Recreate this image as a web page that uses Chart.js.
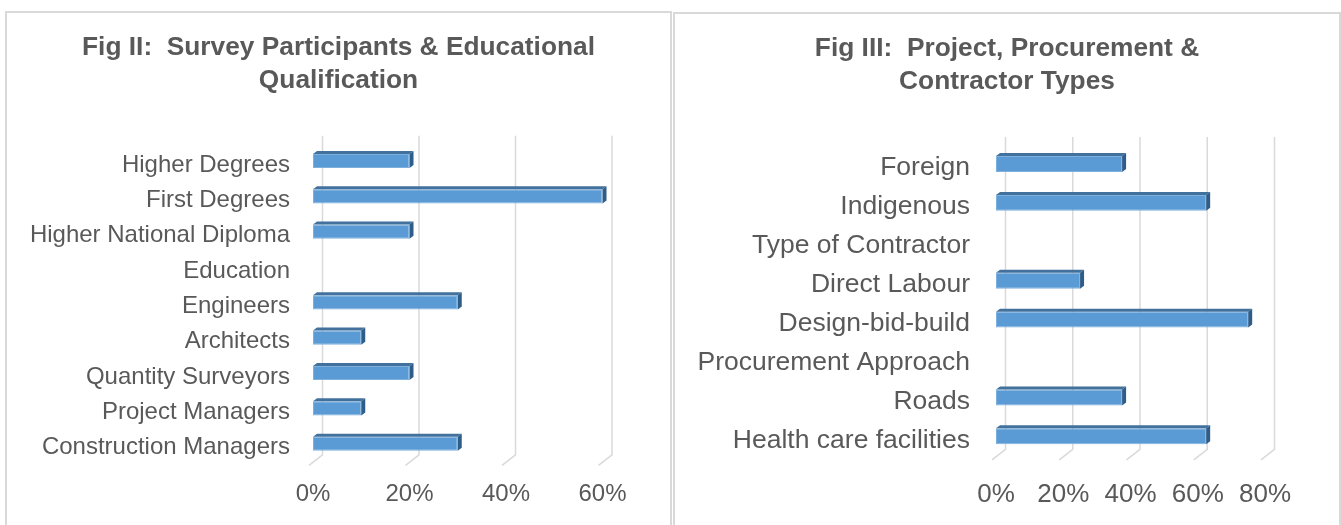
<!DOCTYPE html>
<html>
<head>
<meta charset="utf-8">
<script src="https://cdn.jsdelivr.net/npm/chart.js@4"></script>
<style>
  html, body { margin: 0; padding: 0; background: #fff; overflow: hidden; }
  body { width: 1341px; height: 525px; position: relative; }
  .frame { position: absolute; box-sizing: border-box; border: 2px solid #d9d9d9; height: 560px; }
  .wrap { position: absolute; top: 0; height: 525px; }
</style>
</head>
<body>
<div class="frame" style="left:5px; top:11px; width:667px;"></div>
<div class="frame" style="left:673px; top:12px; width:668px;"></div>
<div class="wrap" style="left:0; width:670px;"><canvas id="figII"></canvas></div>
<div class="wrap" style="left:670px; width:671px;"><canvas id="figIII"></canvas></div>
<script>
// Fig II
const eduLabels = ['Higher Degrees', 'First Degrees', 'Higher National Diploma', 'Education',
  'Engineers', 'Architects', 'Quantity Surveyors', 'Project Managers', 'Construction Managers'];
const eduValues = [0.2, 0.6, 0.2, null, 0.3, 0.1, 0.2, 0.1, 0.3];
const eduTicks = [0, 0.2, 0.4, 0.6];

// Fig III
const projLabels = ['Foreign', 'Indigenous', 'Type of Contractor', 'Direct Labour',
  'Design-bid-build', 'Procurement Approach', 'Roads', 'Health care facilities'];
const projValues = [0.375, 0.625, null, 0.25, 0.75, null, 0.375, 0.625];
const projTicks = [0, 0.2, 0.4, 0.6, 0.8];

const FONT = '"Liberation Sans", Arial, sans-serif';
const TEXT = '#595959';

// back-wall gridlines with the little slanted floor ticks
const wallGrid = {
  id: 'wallGrid',
  beforeDatasetsDraw(chart) {
    const { ctx, chartArea, scales } = chart;
    ctx.save();
    ctx.strokeStyle = '#d9d9d9';
    ctx.lineWidth = 1.5;
    scales.x.ticks.forEach(t => {
      const x = scales.x.getPixelForValue(t.value);
      ctx.beginPath();
      ctx.moveTo(x + 9.5, chartArea.top - 7.5);
      ctx.lineTo(x + 9.5, chartArea.bottom - 6.5);
      ctx.lineTo(x - 4, chartArea.bottom + 4);
      ctx.stroke();
    });
    ctx.restore();
  }
};

// top and end faces of the 3-D bars
const barFaces = {
  id: 'barFaces',
  afterDatasetsDraw(chart) {
    const { ctx } = chart;
    const dx = 4, dy = 3;
    ctx.save();
    chart.getDatasetMeta(0).data.forEach(bar => {
      if (bar.skip) return;
      const { x, y, base, height } = bar.getProps(['x', 'y', 'base', 'height'], true);
      if (x == null || isNaN(x) || x === base) return;
      const top = y - height / 2, bottom = y + height / 2;
      ctx.fillStyle = '#41719c';
      ctx.beginPath();
      ctx.moveTo(base, top);
      ctx.lineTo(base + dx, top - dy);
      ctx.lineTo(x + dx, top - dy);
      ctx.lineTo(x, top);
      ctx.closePath();
      ctx.fill();
      ctx.fillStyle = '#2f5d8a';
      ctx.beginPath();
      ctx.moveTo(x, top);
      ctx.lineTo(x + dx, top - dy);
      ctx.lineTo(x + dx, bottom - dy);
      ctx.lineTo(x, bottom);
      ctx.closePath();
      ctx.fill();
    });
    ctx.restore();
  }
};

function makeChart(id, labels, values, ticks, cfg) {
  const ctx = document.getElementById(id).getContext('2d');
  // title is centred over the whole panel, not just over the plot
  const panelTitle = {
    id: 'panelTitle',
    afterLayout(chart) {
      const t = chart.titleBlock;
      if (!t) return;
      t.left = cfg.panel[0];
      t.right = cfg.panel[1];
      t.width = cfg.panel[1] - cfg.panel[0];
    }
  };
  return new Chart(ctx, {
    type: 'bar',
    data: {
      labels,
      datasets: [{
        data: values,
        backgroundColor: '#5b9bd5',
        borderColor: '#7eb0de',
        borderWidth: 1,
        borderSkipped: false,
        categoryPercentage: 1,
        barPercentage: cfg.barPct
      }]
    },
    options: {
      indexAxis: 'y',
      responsive: true,
      maintainAspectRatio: false,
      animation: false,
      layout: { padding: { left: 0, right: cfg.padRight, top: 0, bottom: 0 } },
      plugins: {
        legend: { display: false },
        tooltip: { enabled: false },
        title: {
          display: true,
          text: cfg.title,
          color: TEXT,
          font: { family: FONT, size: 26.3, weight: 'bold', lineHeight: 1.23 },
          padding: { top: cfg.titleTop, bottom: cfg.titleBottom }
        }
      },
      scales: {
        x: {
          min: 0,
          max: ticks[ticks.length - 1],
          afterBuildTicks: scale => { scale.ticks = ticks.map(v => ({ value: v })); },
          grid: { display: false, drawTicks: false },
          border: { display: false },
          ticks: {
            color: TEXT,
            font: { family: FONT, size: cfg.xFont },
            padding: cfg.xPad,
            maxRotation: 0,
            callback: v => Math.round(v * 100) + '%'
          },
          afterFit: scale => { scale.height = cfg.xHeight; }
        },
        y: {
          grid: { display: false, drawTicks: false },
          border: { display: false },
          ticks: {
            color: TEXT,
            font: { family: FONT, size: cfg.yFont },
            padding: cfg.yPad,
            labelOffset: cfg.yShift,
            autoSkip: false
          },
          afterFit: scale => { scale.width = cfg.yWidth; }
        }
      }
    },
    plugins: [wallGrid, barFaces, panelTitle]
  });
}

makeChart('figII', eduLabels, eduValues, eduTicks, {
  title: ['Fig II:  Survey Participants & Educational', 'Qualification'],
  panel: [5, 672],
  barPct: 0.4,
  padRight: 67.5,
  yWidth: 313, yPad: 23, yFont: 24, yShift: 4,
  xFont: 24, xPad: 19, xHeight: 63.6,
  titleTop: 32, titleBottom: 46.6
});

makeChart('figIII', projLabels, projValues, projTicks, {
  title: ['Fig III:  Project, Procurement &', 'Contractor Types'],
  panel: [3, 671],
  barPct: 0.41,
  padRight: 76,
  yWidth: 326, yPad: 26, yFont: 26.5, yShift: 4,
  xFont: 26, xPad: 23, xHeight: 69.2,
  titleTop: 33, titleBottom: 46.8
});
</script>
</body>
</html>
